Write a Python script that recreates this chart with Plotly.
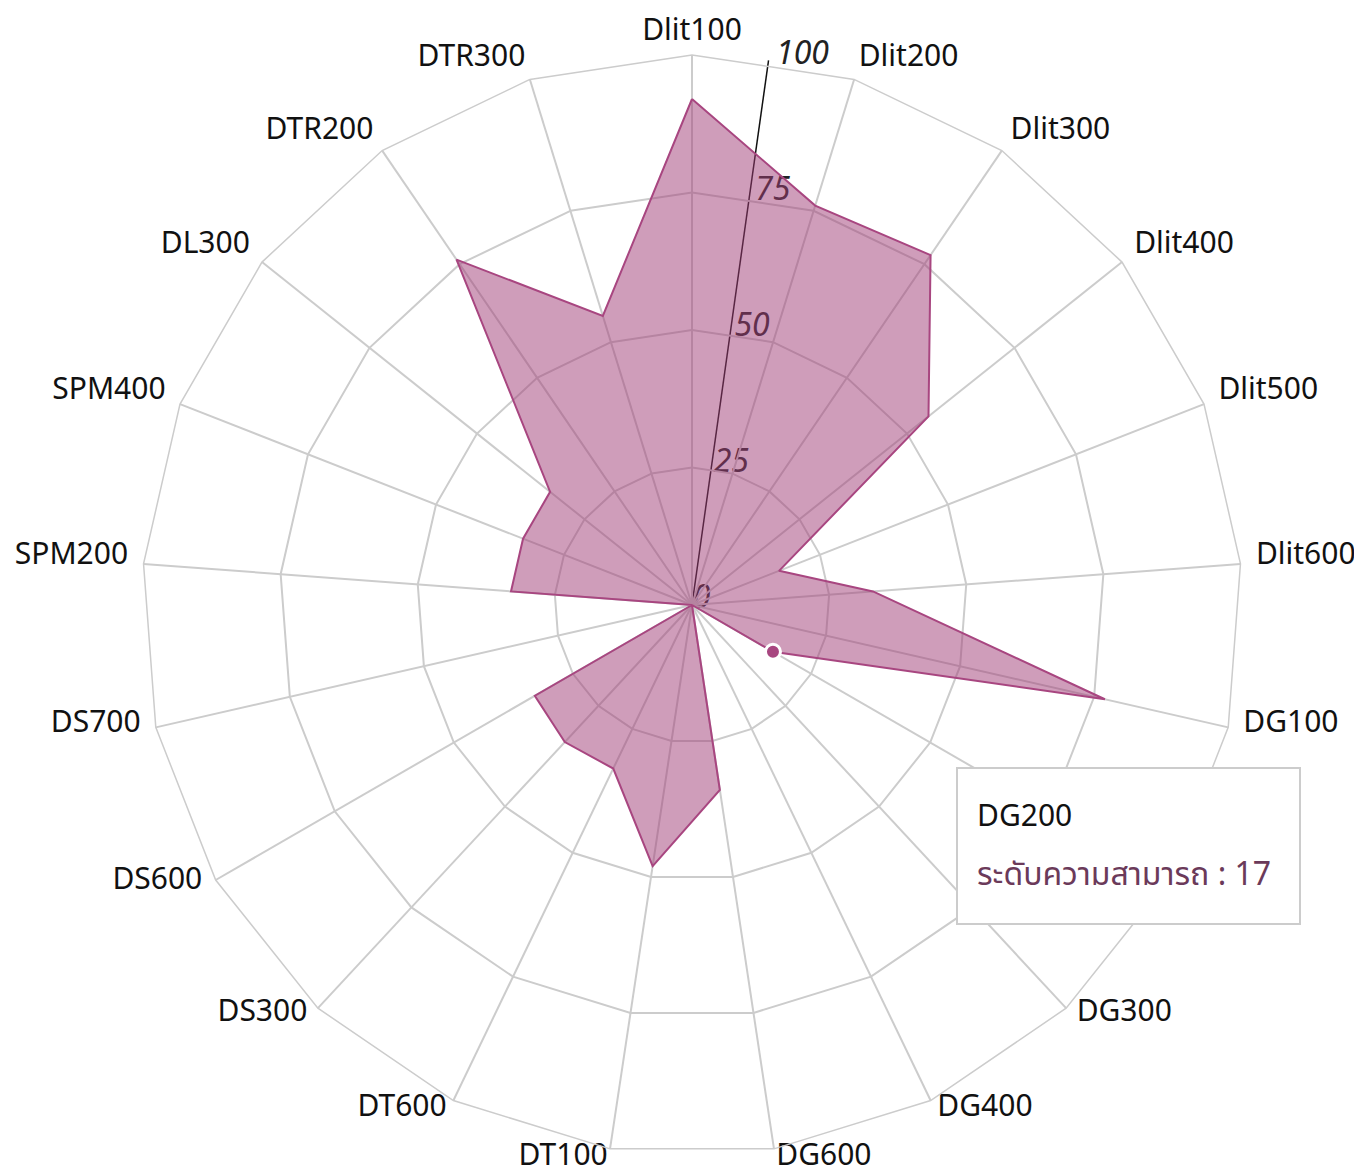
import math
import plotly.graph_objects as go

categories = ["Dlit100", "Dlit200", "Dlit300", "Dlit400", "Dlit500", "Dlit600",
              "DG100", "DG200", "DG300", "DG400", "DG600", "DT100", "DT600",
              "DS300", "DS600", "DS700", "SPM200", "SPM400", "DL300", "DTR200", "DTR300"]
values = [92, 76, 77, 55, 17, 33, 77, 17, 0, 0, 34, 48, 33, 34, 33, 0, 33, 33, 33, 76, 55]
radial_ticks = [0, 25, 50, 75, 100]
series_name = "ระดับความสามารถ"
hover_category = "DG200"

FONT = "Noto Sans, Noto Sans Thai, Loma, Garuda, sans-serif"
W, H = 1362, 1171
OFF = 8                  # page body margin offset
RMAX = 100
AXIS_ANGLE = 82          # screen angle of radial axis (deg, ccw from east)
TICK_ANGLE = 81.3        # angle of tick label anchors
CX, CY = 692, 605        # polar centre, screen px
R_PX = 550               # outer ring radius, px
HALF_AX = 574            # half-size of the (larger) label/axis subplot
LABEL_GAP = 15.5         # px beyond outer ring
LABEL_RAISE = 6.5        # px upward shift of label centres
TOP_GAP = 8
TICK_RAISE = 1.0         # radial units along the axis for tick labels

def px_x(v):
    return (v - OFF) / W

def px_y(v):
    return 1 - (v - OFF) / H

n = len(categories)
# category label anchors in the label subplot's polar coordinates
lab_r, lab_th, lab_pos = [], [], []
for i in range(n):
    a = math.radians(i * 360 / n)
    s, c = math.sin(a), math.cos(a)
    if abs(s) < 0.05:
        ax_, ay_ = 0.0, (R_PX + TOP_GAP) * c
        pos = "top center" if c > 0 else "bottom center"
    else:
        ax_ = (R_PX + LABEL_GAP) * s
        ay_ = (R_PX + LABEL_GAP) * c + LABEL_RAISE   # y up
        pos = "middle right" if s > 0 else "middle left"
    lab_r.append(math.hypot(ax_, ay_) / R_PX * RMAX)
    lab_th.append(math.degrees(math.atan2(ay_, ax_)))
    lab_pos.append(pos)

fig = go.Figure()

# label/axis subplot (drawn first, underneath the data)
fig.add_trace(go.Scatterpolar(
    r=[0, RMAX], theta=[AXIS_ANGLE, AXIS_ANGLE], mode="lines",
    line=dict(color="#111", width=1.5), hoverinfo="skip", subplot="polar",
))
fig.add_trace(go.Scatterpolar(
    r=[t + TICK_RAISE for t in radial_ticks],
    theta=[TICK_ANGLE] * len(radial_ticks),
    mode="text", text=[str(t) for t in radial_ticks],
    textposition="middle right",
    textfont=dict(family=FONT, size=32, color="#222", style="italic"),
    cliponaxis=False, hoverinfo="skip", subplot="polar",
))
fig.add_trace(go.Scatterpolar(
    r=lab_r, theta=lab_th, mode="text", text=categories,
    textposition=lab_pos,
    textfont=dict(family=FONT, size=30, color="#111"),
    cliponaxis=False, hoverinfo="skip", subplot="polar",
))

# data subplot
fig.add_trace(go.Scatterpolar(
    r=values + [values[0]],
    theta=categories + [categories[0]],
    mode="lines",
    fill="toself",
    fillcolor="rgba(160,60,118,0.5)",
    line=dict(color="rgb(168,70,128)", width=2),
    name=series_name,
    hoverinfo="skip",
    subplot="polar2",
))
hi = categories.index(hover_category)
fig.add_trace(go.Scatterpolar(
    r=[values[hi]],
    theta=[categories[hi]],
    mode="markers",
    marker=dict(size=15, color="rgb(168,70,128)", line=dict(color="white", width=3)),
    hoverinfo="skip",
    subplot="polar2",
))

dom_data = dict(x=[px_x(CX - R_PX), px_x(CX + R_PX)], y=[px_y(CY + R_PX), px_y(CY - R_PX)])
dom_lab = dict(x=[px_x(CX - HALF_AX), px_x(CX + HALF_AX)],
               y=[max(0, px_y(CY + HALF_AX)), px_y(CY - HALF_AX)])
fig.update_layout(
    width=W, height=H,
    margin=dict(l=0, r=0, t=0, b=0),
    paper_bgcolor="white",
    showlegend=False,
    font=dict(family=FONT, size=30, color="#111"),
    polar=dict(
        domain=dom_lab,
        bgcolor="white",
        angularaxis=dict(visible=False, direction="counterclockwise", rotation=0),
        radialaxis=dict(range=[0, RMAX * HALF_AX / R_PX], visible=False),
    ),
    polar2=dict(
        domain=dom_data,
        bgcolor="rgba(0,0,0,0)",
        gridshape="linear",
        angularaxis=dict(
            direction="clockwise", rotation=90,
            categoryorder="array", categoryarray=categories,
            showline=True, linecolor="#cccccc", linewidth=1.5,
            gridcolor="#cccccc", gridwidth=1.5,
            ticks="", showticklabels=False,
            layer="below traces",
        ),
        radialaxis=dict(
            range=[0, RMAX],
            tickvals=radial_ticks,
            showline=False, showticklabels=False, ticks="",
            gridcolor="#cccccc", gridwidth=1.5,
            layer="below traces",
        ),
    ),
)

# tooltip box
bx0, by0, bx1, by1 = 957, 768, 1300, 924
fig.add_shape(type="rect", xref="paper", yref="paper",
              x0=px_x(bx0), x1=px_x(bx1), y0=px_y(by0), y1=px_y(by1),
              line=dict(color="#cccccc", width=2), fillcolor="white", layer="above")
fig.add_annotation(xref="paper", yref="paper", x=px_x(975), y=px_y(815),
                   xanchor="left", yanchor="middle", showarrow=False,
                   text=hover_category, font=dict(family=FONT, size=30, color="#111"))
fig.add_annotation(xref="paper", yref="paper", x=px_x(975), y=px_y(872),
                   xanchor="left", yanchor="middle", showarrow=False,
                   text=f"{series_name} : {values[hi]}",
                   font=dict(family=FONT, size=32, color="#6b3a5a"))

fig.write_html("out.html")
